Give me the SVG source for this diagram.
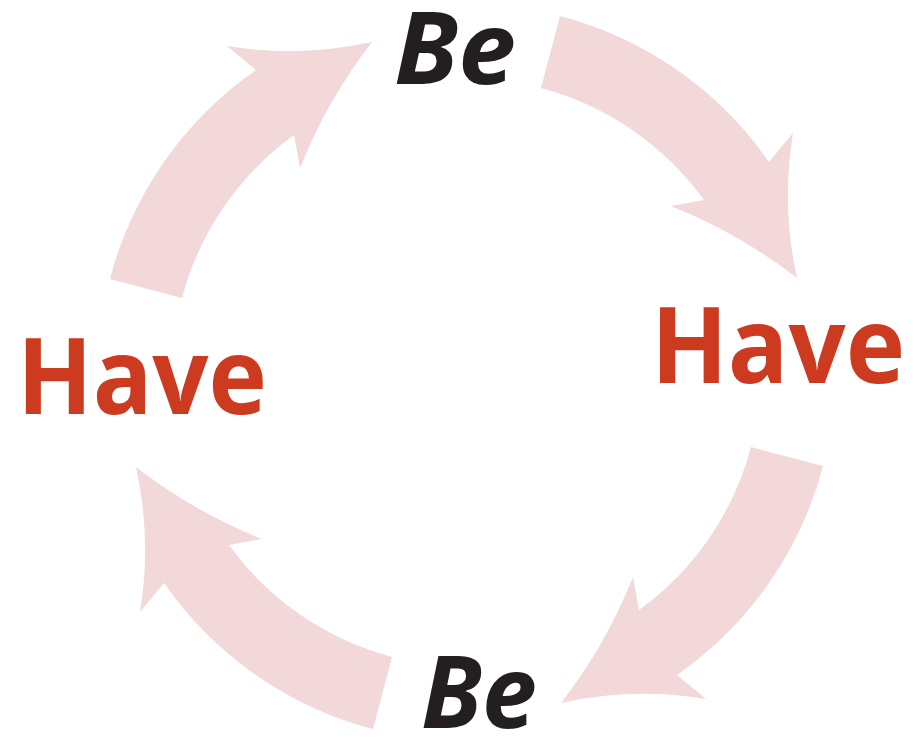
<svg xmlns="http://www.w3.org/2000/svg" xmlns:xlink="http://www.w3.org/1999/xlink" width="917" height="738" viewBox="0 0 917 738">
  <style>
    .arrow { fill: #f2d8d9; }
    .be { font-family: "Open Sans", "Liberation Sans", sans-serif; font-weight: 700; font-style: italic; font-size: 100px; fill: #231f20; }
    .have { font-family: "Open Sans", "Liberation Sans", sans-serif; font-weight: 700; font-size: 105px; fill: #cc3a20; }
  </style>
  <defs>
    <path id="arc-arrow" class="arrow" d="M560,16 A368.5,368.5 0 0 1 769,162 L793,133 Q781,205 797,278 Q739,233 671,206 L704,200 A294,294 0 0 0 541,88 Z"/>
  </defs>
  <rect width="917" height="738" fill="#ffffff"/>
  <g id="connectors">
    <use xlink:href="#arc-arrow" href="#arc-arrow"/>
    <use xlink:href="#arc-arrow" href="#arc-arrow" transform="rotate(90 466.5 372.5)"/>
    <use xlink:href="#arc-arrow" href="#arc-arrow" transform="rotate(180 466.5 372.5)"/>
    <use xlink:href="#arc-arrow" href="#arc-arrow" transform="rotate(270 466.5 372.5)"/>
  </g>
  <g id="be-top">
    <text class="be" x="394" y="84" textLength="122" lengthAdjust="spacingAndGlyphs">Be</text>
  </g>
  <g id="have-right">
    <text class="have" x="651" y="383" textLength="254" lengthAdjust="spacingAndGlyphs">Have</text>
  </g>
  <g id="be-bottom">
    <text class="be" x="421" y="728" textLength="116" lengthAdjust="spacingAndGlyphs">Be</text>
  </g>
  <g id="have-left">
    <text class="have" x="17" y="414" textLength="250" lengthAdjust="spacingAndGlyphs">Have</text>
  </g>
</svg>
